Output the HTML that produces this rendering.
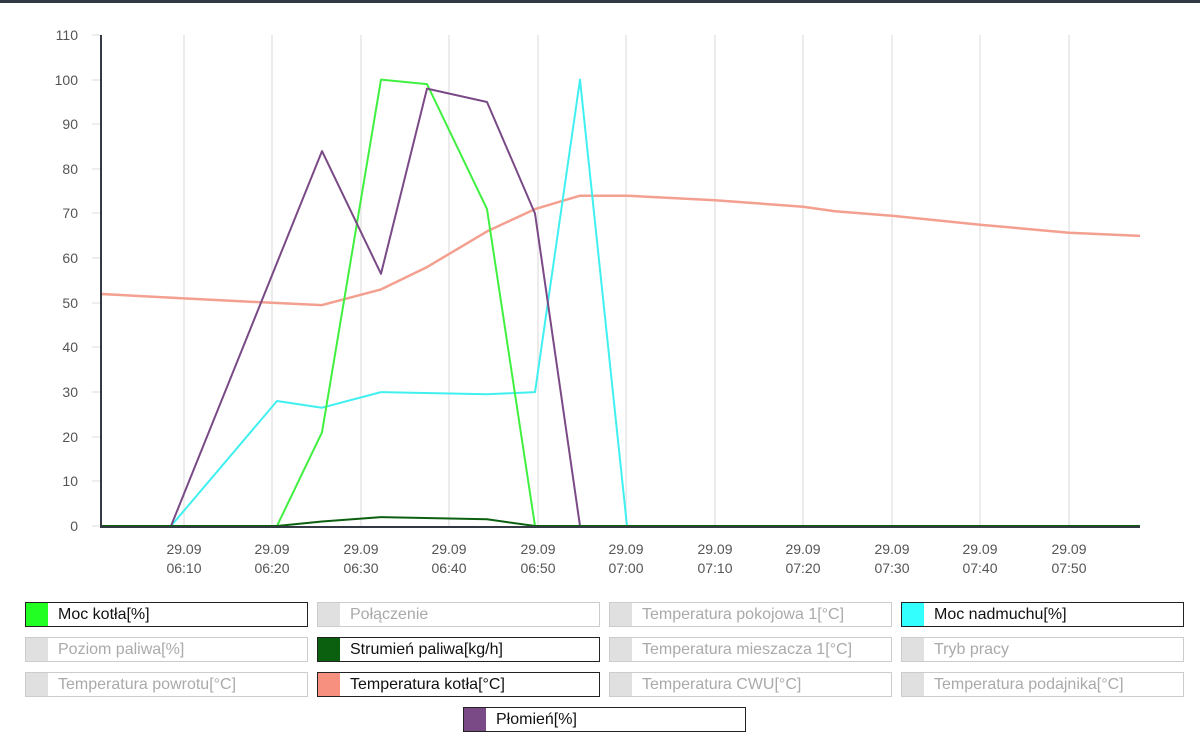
<!DOCTYPE html>
<html><head><meta charset="utf-8"><style>
body{margin:0;width:1200px;height:737px;background:#fff;font-family:"Liberation Sans",sans-serif;position:relative;overflow:hidden}
.top{position:absolute;left:0;top:0;width:1200px;height:3px;background:#343a44}
.lg{position:absolute;height:25px;width:280px;border:1px solid #ccc;box-sizing:border-box;font-size:16px;color:#aaa;line-height:23px}
.lg.on{border-color:#222;color:#111}
.lg i{display:inline-block;width:22px;height:23px;background:#e0e0e0;vertical-align:top;margin-right:10px}
</style></head><body>
<div class="top"></div>
<svg width="1200" height="600" style="position:absolute;left:0;top:0" font-family="Liberation Sans, sans-serif">
<g stroke="#e6e6e6" stroke-width="1.5">
<line x1="184" y1="35" x2="184" y2="526"/><line x1="272" y1="35" x2="272" y2="526"/><line x1="361" y1="35" x2="361" y2="526"/><line x1="449" y1="35" x2="449" y2="526"/><line x1="538" y1="35" x2="538" y2="526"/><line x1="626" y1="35" x2="626" y2="526"/><line x1="715" y1="35" x2="715" y2="526"/><line x1="803" y1="35" x2="803" y2="526"/><line x1="892" y1="35" x2="892" y2="526"/><line x1="980" y1="35" x2="980" y2="526"/><line x1="1069" y1="35" x2="1069" y2="526"/>
</g>
<g stroke="#ddd"><line x1="92" y1="35" x2="101" y2="35"/><line x1="92" y1="80" x2="101" y2="80"/><line x1="92" y1="124" x2="101" y2="124"/><line x1="92" y1="169" x2="101" y2="169"/><line x1="92" y1="213" x2="101" y2="213"/><line x1="92" y1="258" x2="101" y2="258"/><line x1="92" y1="303" x2="101" y2="303"/><line x1="92" y1="347" x2="101" y2="347"/><line x1="92" y1="392" x2="101" y2="392"/><line x1="92" y1="437" x2="101" y2="437"/><line x1="92" y1="481" x2="101" y2="481"/><line x1="92" y1="526" x2="101" y2="526"/></g>
<g font-size="14" fill="#555" text-anchor="end">
<text x="78" y="40">110</text><text x="78" y="85">100</text><text x="78" y="129">90</text><text x="78" y="174">80</text><text x="78" y="218">70</text><text x="78" y="263">60</text><text x="78" y="308">50</text><text x="78" y="352">40</text><text x="78" y="397">30</text><text x="78" y="442">20</text><text x="78" y="486">10</text><text x="78" y="531">0</text>
</g>
<g font-size="14" fill="#555" text-anchor="middle">
<text x="184" y="554">29.09</text><text x="184" y="573">06:10</text>
<text x="272" y="554">29.09</text><text x="272" y="573">06:20</text>
<text x="361" y="554">29.09</text><text x="361" y="573">06:30</text>
<text x="449" y="554">29.09</text><text x="449" y="573">06:40</text>
<text x="538" y="554">29.09</text><text x="538" y="573">06:50</text>
<text x="626" y="554">29.09</text><text x="626" y="573">07:00</text>
<text x="715" y="554">29.09</text><text x="715" y="573">07:10</text>
<text x="803" y="554">29.09</text><text x="803" y="573">07:20</text>
<text x="892" y="554">29.09</text><text x="892" y="573">07:30</text>
<text x="980" y="554">29.09</text><text x="980" y="573">07:40</text>
<text x="1069" y="554">29.09</text><text x="1069" y="573">07:50</text>
</g>
<g fill="none" stroke-width="2" stroke-linejoin="round">
<polyline stroke="#f4a090" stroke-width="2.5" points="101,294 184,298.4 272,302.8 322,305.1 381,289.4 427,267.1 487,231.4 535,209.1 580,195.7 627,195.7 715,200.2 803,206.8 835,211.3 892,215.8 980,224.7 1030,229.2 1069,232.7 1140,235.9"/>
<polyline stroke="#40f0f0" points="101,526 171,526 277,401 322,407.7 381,392.1 487,394.3 535,392.1 580,79.6 627,526 1140,526"/>
<polyline stroke="#40f040" points="101,526 277,526 322,432.3 381,79.6 427,84.1 487,209.1 535,526 1140,526"/>
<polyline stroke="#7a4a86" points="101,526 171,526 322,151.1 381,273.8 427,88.6 487,102 535,213.5 580,526 1140,526"/>
<polyline stroke="#0b6010" points="101,526 277,526 322,521.5 381,517.1 487,519.3 535,526 1140,526"/>
</g>
<line x1="101" y1="35" x2="101" y2="527" stroke="#343a44" stroke-width="2"/>
<line x1="100" y1="527" x2="1140" y2="527" stroke="#343a44" stroke-width="2"/>
</svg>
<div class="lg on" style="left:25px;top:602px;width:283px"><i style="background:#22ff22"></i>Moc kotła[%]</div>
<div class="lg" style="left:317px;top:602px;width:283px"><i></i>Połączenie</div>
<div class="lg" style="left:609px;top:602px;width:283px"><i></i>Temperatura pokojowa 1[°C]</div>
<div class="lg on" style="left:901px;top:602px;width:283px"><i style="background:#33ffff"></i>Moc nadmuchu[%]</div>
<div class="lg" style="left:25px;top:637px;width:283px"><i></i>Poziom paliwa[%]</div>
<div class="lg on" style="left:317px;top:637px;width:283px"><i style="background:#0b6010"></i>Strumień paliwa[kg/h]</div>
<div class="lg" style="left:609px;top:637px;width:283px"><i></i>Temperatura mieszacza 1[°C]</div>
<div class="lg" style="left:901px;top:637px;width:283px"><i></i>Tryb pracy</div>
<div class="lg" style="left:25px;top:672px;width:283px"><i></i>Temperatura powrotu[°C]</div>
<div class="lg on" style="left:317px;top:672px;width:283px"><i style="background:#f89080"></i>Temperatura kotła[°C]</div>
<div class="lg" style="left:609px;top:672px;width:283px"><i></i>Temperatura CWU[°C]</div>
<div class="lg" style="left:901px;top:672px;width:283px"><i></i>Temperatura podajnika[°C]</div>
<div class="lg on" style="left:463px;top:707px;width:283px"><i style="background:#7a4a86"></i>Płomień[%]</div>
</body></html>
